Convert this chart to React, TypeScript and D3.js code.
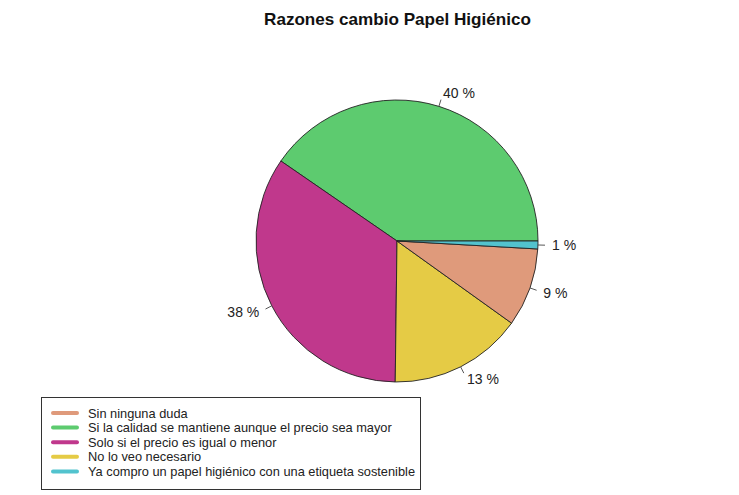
import React from "react";
import * as d3 from "d3";

const categories = [
  "Sin ninguna duda",
  "Si la calidad se mantiene aunque el precio sea mayor",
  "Solo si el precio es igual o menor",
  "No lo veo necesario",
  "Ya compro un papel higiénico con una etiqueta sostenible",
];
const colors = ["#DF9A7B", "#5DCB6F", "#C0388C", "#E5CB45", "#52C3CE"];
// slice shares in legend order
const shares = [9.0, 40.4, 34.4, 15.3, 0.9];
// printed labels in legend order
const labels = ["9 %", "40 %", "38 %", "13 %", "1 %"];
// order of slices counter-clockwise from 3 o'clock
const sliceOrder = [1, 2, 3, 0, 4];

const W = 739;
const H = 495;
const cx = 397;
const cy = 241;
const R = 141;

export default function App() {
  const data = sliceOrder.map((i) => ({ i, v: shares[i] }));
  const pie = d3
    .pie<{ i: number; v: number }>()
    .value((d) => d.v)
    .sort(null)
    .startAngle(Math.PI / 2)
    .endAngle(Math.PI / 2 - 2 * Math.PI);
  const arcs = pie(data);
  const arc = d3.arc<any>().innerRadius(0).outerRadius(R);

  const font = "'Liberation Sans', Arial, Helvetica, sans-serif";

  return (
    <svg
      width={W}
      height={H}
      style={{ position: "absolute", left: 0, top: 0, background: "#fff" }}
      fontFamily={font}
    >
      <text x={397.5} y={25} textAnchor="middle" fontWeight="bold" fontSize={17.1} fill="#111">
        Razones cambio Papel Higiénico
      </text>
      <g transform={`translate(${cx},${cy})`}>
        {arcs.map((a) => (
          <path
            key={a.data.i}
            d={arc(a) as string}
            fill={colors[a.data.i]}
            stroke="#222"
            strokeWidth={0.9}
          />
        ))}
        {arcs.map((a) => {
          const m = (a.startAngle + a.endAngle) / 2;
          const sx = Math.sin(m);
          const sy = -Math.cos(m);
          return (
            <g key={"l" + a.data.i}>
              <line
                x1={sx * R}
                y1={sy * R}
                x2={sx * R * 1.05}
                y2={sy * R * 1.05}
                stroke="#444"
                strokeWidth={0.9}
              />
              <text
                x={sx * R * 1.1}
                y={sy * R * 1.1}
                textAnchor={sx >= 0 ? "start" : "end"}
                dominantBaseline="central"
                fontSize={14}
                fill="#222"
              >
                {labels[a.data.i]}
              </text>
            </g>
          );
        })}
      </g>
      <g>
        <rect x={41.5} y={397.5} width={379} height={92} fill="#fff" stroke="#333" strokeWidth={1} />
        {categories.map((c, i) => {
          const y = 413 + i * 14.6;
          return (
            <g key={c}>
              <line x1={53} x2={77} y1={y} y2={y} stroke={colors[i]} strokeWidth={4} strokeLinecap="round" />
              <text x={88} y={y} dominantBaseline="central" fontSize={12.8} fill="#222">
                {c}
              </text>
            </g>
          );
        })}
      </g>
    </svg>
  );
}
